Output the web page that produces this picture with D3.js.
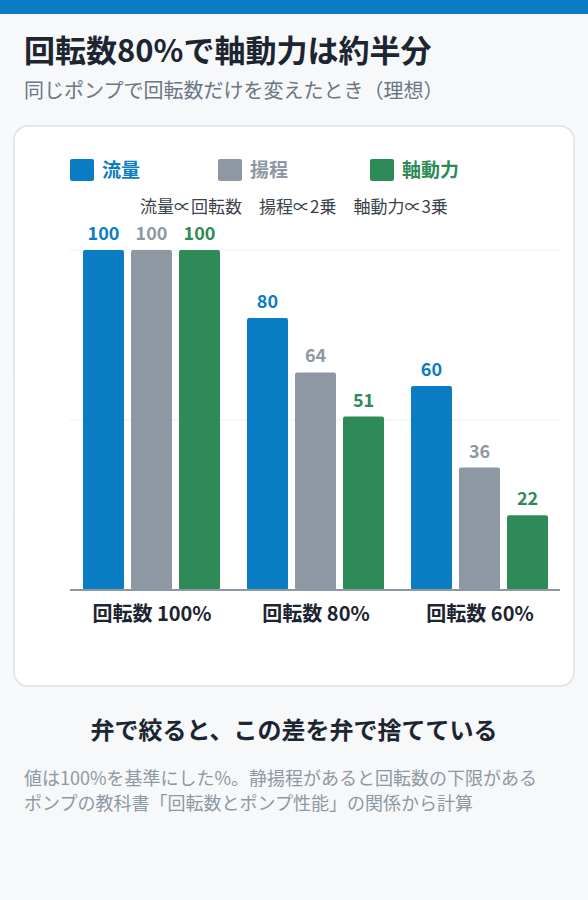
<!DOCTYPE html>
<html><head><meta charset="utf-8">
<script src="https://cdn.jsdelivr.net/npm/d3@7"></script>
<style>
body{margin:0;background:#f6f8fa;font-family:"Noto Sans CJK JP","Noto Sans",sans-serif;}
</style></head><body>
<svg id="c" width="588" height="900"></svg>
<script>
(function () {
  var groups = ['回転数 100%', '回転数 80%', '回転数 60%'];
  var seriesNames = ['流量', '揚程', '軸動力'];
  var flow = [100, 80, 60];
  var head = [100, 64, 36];
  var power = [100, 51, 22];
  var formulas = ['流量∝回転数', '揚程∝2乗', '軸動力∝3乗'];
  var colours = ['#0a7cc4', '#8e98a3', '#2e8b57'];
  var font = '"Noto Sans CJK JP", sans-serif';

  var svg = d3.select('#c').style('font-family', font);
  svg.append('rect').attr('width', 588).attr('height', 14).attr('fill', '#0a7cc4');
  svg.append('text').attr('x', 24).attr('y', 62).attr('font-size', 31).attr('font-weight', 700)
    .attr('fill', '#1c2530').text('回転数80%で軸動力は約半分');
  svg.append('text').attr('x', 24).attr('y', 98).attr('font-size', 20)
    .attr('fill', '#6b7682').text('同じポンプで回転数だけを変えたとき（理想）');

  svg.append('rect').attr('x', 14).attr('y', 126).attr('width', 560).attr('height', 560)
    .attr('rx', 14).attr('fill', '#fff').attr('stroke', '#dde2e7').attr('stroke-width', 1.5);

  var legend = svg.selectAll('g.lg').data(seriesNames).enter().append('g')
    .attr('transform', function (d, i) { return 'translate(' + [70, 218, 370][i] + ',159)'; });
  legend.append('rect').attr('width', 24).attr('height', 22).attr('rx', 2)
    .attr('fill', function (d, i) { return colours[i]; });
  legend.append('text').attr('x', 32).attr('y', 18).attr('font-size', 19).attr('font-weight', 700)
    .attr('fill', function (d, i) { return colours[i]; }).text(function (d) { return d; });

  svg.append('text').attr('x', 140).attr('y', 213).attr('font-size', 17).attr('fill', '#3a424b')
    .text(formulas.join('　'));

  var x0 = d3.scaleBand().domain(groups).range([83, 575]).padding(0);
  var x1 = d3.scaleBand().domain(seriesNames).range([0, 137]).paddingInner(0.146).paddingOuter(0);
  var y = d3.scaleLinear().domain([0, 100]).range([590, 250]);

  svg.selectAll('line.grid').data([50, 100]).enter().append('line')
    .attr('x1', 70).attr('x2', 560).attr('y1', y).attr('y2', y)
    .attr('stroke', '#eceff2');

  var data = groups.map(function (g, i) { return [flow[i], head[i], power[i]]; });
  var gg = svg.selectAll('g.grp').data(data).enter().append('g')
    .attr('transform', function (d, i) { return 'translate(' + x0(groups[i]) + ',0)'; });
  gg.selectAll('rect').data(function (d) { return d; }).enter().append('rect')
    .attr('x', function (d, i) { return x1(seriesNames[i]); })
    .attr('width', x1.bandwidth())
    .attr('y', y).attr('height', function (d) { return y(0) - y(d); })
    .attr('rx', 2)
    .attr('fill', function (d, i) { return colours[i]; });
  gg.selectAll('text').data(function (d) { return d; }).enter().append('text')
    .attr('x', function (d, i) { return x1(seriesNames[i]) + x1.bandwidth() / 2; })
    .attr('y', function (d) { return y(d) - 10; })
    .attr('text-anchor', 'middle').attr('font-size', 18).attr('font-weight', 700)
    .attr('fill', function (d, i) { return colours[i]; }).text(function (d) { return d; });

  svg.append('line').attr('x1', 70).attr('x2', 560).attr('y1', y(0)).attr('y2', y(0))
    .attr('stroke', '#8e98a3').attr('stroke-width', 2);

  var axis = svg.append('g').attr('transform', 'translate(0,' + y(0) + ')')
    .call(d3.axisBottom(x0).tickSize(0).tickPadding(17));
  axis.select('.domain').remove();
  axis.selectAll('text').attr('x', -13).attr('font-size', 20).attr('font-weight', 700)
    .attr('fill', '#1c2530').attr('font-family', font);

  svg.append('text').attr('x', 294).attr('y', 739).attr('text-anchor', 'middle')
    .attr('font-size', 24).attr('font-weight', 700).attr('fill', '#1c2530')
    .text('弁で絞ると、この差を弁で捨てている');
  svg.append('text').attr('x', 24).attr('y', 785).attr('font-size', 18).attr('fill', '#8e98a3')
    .text('値は100%を基準にした%。静揚程があると回転数の下限がある');
  svg.append('text').attr('x', 24).attr('y', 810).attr('font-size', 18).attr('fill', '#8e98a3')
    .text('ポンプの教科書「回転数とポンプ性能」の関係から計算');
}());
</script></body></html>
